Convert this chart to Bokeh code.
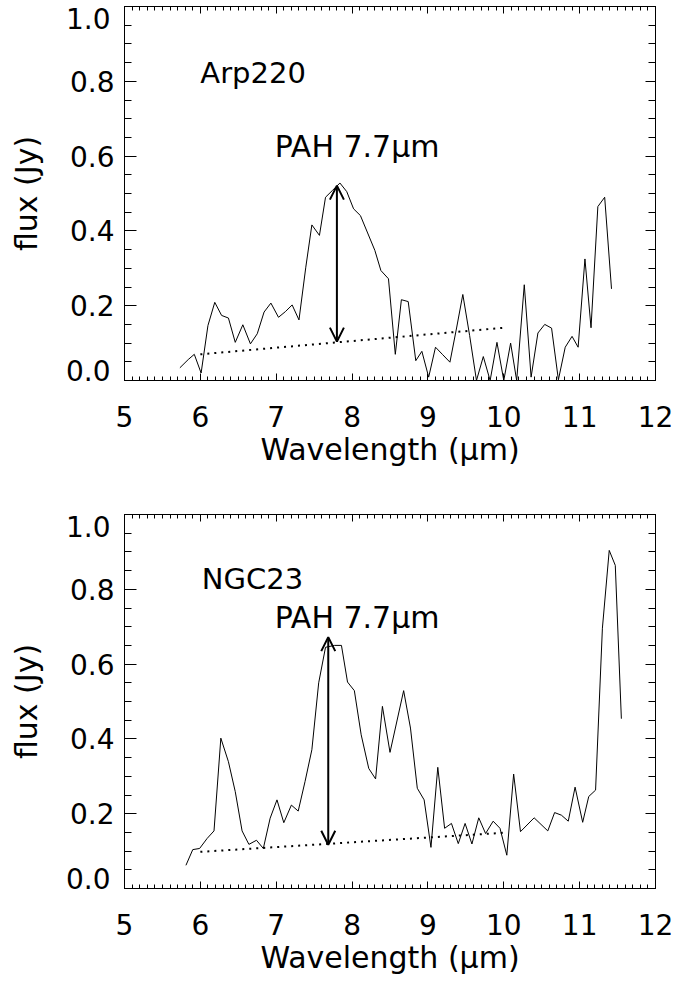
import numpy as np
from bokeh.plotting import figure
from bokeh.models import (Range1d, LinearAxis, SingleIntervalTicker, FixedTicker, Label, Arrow,
                          OpenHead, PrintfTickFormatter, CustomLabelingPolicy)
from bokeh.layouts import column
from bokeh.embed import file_html
from bokeh.resources import INLINE

# ---------------- data ----------------
wl_arp = [5.73, 5.84, 5.92, 6.01, 6.10, 6.19, 6.28, 6.37, 6.46, 6.56, 6.66, 6.75, 6.84,
          6.93, 7.03, 7.12, 7.21, 7.30, 7.39, 7.47, 7.57, 7.65, 7.74, 7.84, 7.93, 8.02,
          8.11, 8.20, 8.30, 8.38, 8.48, 8.57, 8.65, 8.74, 8.84, 8.92, 9.01, 9.10, 9.19,
          9.29, 9.38, 9.46, 9.55, 9.64, 9.73, 9.82, 9.91, 10.00, 10.09, 10.17, 10.27,
          10.36, 10.45, 10.54, 10.63, 10.72, 10.81, 10.90, 10.98, 11.07, 11.15, 11.24,
          11.33, 11.42]
flux_arp = [0.034, 0.056, 0.070, 0.020, 0.147, 0.209, 0.174, 0.167, 0.102, 0.149, 0.098,
            0.125, 0.183, 0.207, 0.169, 0.184, 0.202, 0.162, 0.303, 0.416, 0.388, 0.490,
            0.508, 0.528, 0.505, 0.459, 0.441, 0.397, 0.348, 0.294, 0.272, 0.070, 0.216,
            0.211, 0.053, 0.078, 0.009, 0.089, 0.070, 0.049, 0.143, 0.230, 0.120, 0.000,
            0.064, 0.000, 0.102, 0.000, 0.100, 0.000, 0.256, 0.009, 0.127, 0.150, 0.140,
            0.002, 0.089, 0.118, 0.089, 0.325, 0.141, 0.465, 0.490, 0.245]

wl_ngc = [5.81, 5.90, 5.99, 6.09, 6.18, 6.27, 6.37, 6.46, 6.55, 6.64, 6.74, 6.83, 6.92,
          7.01, 7.10, 7.20, 7.29, 7.38, 7.47, 7.56, 7.65, 7.77, 7.86, 7.94, 8.03, 8.12,
          8.22, 8.31, 8.40, 8.50, 8.68, 8.77, 8.86, 8.95, 9.04, 9.13, 9.22, 9.31, 9.40,
          9.49, 9.58, 9.67, 9.76, 9.86, 9.95, 10.04, 10.13, 10.22, 10.40, 10.58, 10.67,
          10.76, 10.85, 10.94, 11.04, 11.12, 11.21, 11.30, 11.39, 11.47, 11.55]
flux_ngc = [0.062, 0.104, 0.107, 0.134, 0.154, 0.402, 0.339, 0.259, 0.154, 0.118, 0.129,
            0.107, 0.188, 0.237, 0.176, 0.223, 0.207, 0.286, 0.371, 0.550, 0.645, 0.650,
            0.650, 0.552, 0.529, 0.411, 0.321, 0.293, 0.487, 0.364, 0.529, 0.429, 0.268,
            0.237, 0.110, 0.324, 0.161, 0.174, 0.120, 0.174, 0.119, 0.189, 0.147, 0.180,
            0.161, 0.089, 0.306, 0.152, 0.189, 0.154, 0.203, 0.196, 0.180, 0.271, 0.177,
            0.246, 0.263, 0.696, 0.904, 0.864, 0.454]

cont_x = [6.0, 10.0]
cont_arp = [0.070, 0.141]
cont_ngc = [0.098, 0.149]

arrow_arp = (7.80, 0.104, 0.521)   # x, bottom, top
arrow_ngc = (7.686, 0.117, 0.672)

names = ["Arp220", "NGC23"]
name_pos = [(6.0, 0.822), (6.02, 0.827)]
pah_text = "PAH 7.7\u03bcm"
pah_pos = [(6.98, 0.627), (6.98, 0.725)]

x_lim = (5, 12)
y_lim = (0.0, 1.0)
y_inner_ticks = [0.2, 0.4, 0.6, 0.8]
y_end_ticks = [0.0, 1.0]
y_minor_ticks = [round(v, 2) for v in np.arange(0.0, 1.0001, 0.05)]

FONT = "DejaVu Sans"
HIDE_ALL = "for (const i of indices) indices.unset(i)"


def make_panel(wl, flux, cont_y, arrow, name, npos, ppos, top_b, bot_b):
    p = figure(frame_width=531, frame_height=374,
               x_range=Range1d(*x_lim), y_range=Range1d(*y_lim),
               output_backend="svg", toolbar_location=None,
               min_border_left=124, min_border_right=19,
               min_border_top=top_b, min_border_bottom=bot_b,
               x_axis_label="Wavelength (\u03bcm)")
    p.xgrid.visible = False
    p.ygrid.visible = False
    p.outline_line_color = "black"
    p.outline_line_width = 1
    p.outline_line_alpha = 1.0
    p.background_fill_color = "white"
    p.border_fill_color = "white"
    # range used only to place the end labels (0.0 / 1.0) slightly inside, as in the original
    p.extra_y_ranges = {"ends": Range1d(-0.0284, 1.0341)}

    xa = p.xaxis[0]
    xa.ticker = SingleIntervalTicker(interval=1, num_minor_ticks=10)
    xa.major_tick_in = 7
    xa.major_tick_out = 0
    xa.minor_tick_in = 4
    xa.minor_tick_out = 0
    xa.major_label_standoff = 25
    xa.axis_label_standoff = 2
    xa.major_label_text_font = FONT
    xa.major_label_text_font_size = "28px"
    xa.axis_label_text_font = FONT
    xa.axis_label_text_font_size = "30px"
    xa.axis_label_text_font_style = "normal"

    ya = p.yaxis[0]
    ya.ticker = FixedTicker(ticks=y_inner_ticks, minor_ticks=y_minor_ticks)
    ya.formatter = PrintfTickFormatter(format="%.1f")
    ya.major_tick_in = 12
    ya.major_tick_out = 0
    ya.minor_tick_in = 7
    ya.minor_tick_out = 0
    ya.major_label_standoff = 10
    ya.major_label_text_font = FONT
    ya.major_label_text_font_size = "28px"

    for ax in (xa, ya):
        ax.axis_line_color = "black"
        ax.major_tick_line_color = "black"
        ax.minor_tick_line_color = "black"
        ax.major_label_text_color = "black"
        ax.axis_label_text_color = "black"

    ends = LinearAxis(y_range_name="ends", ticker=FixedTicker(ticks=y_end_ticks, minor_ticks=[]),
                      formatter=PrintfTickFormatter(format="%.1f"),
                      major_tick_in=0, major_tick_out=0, minor_tick_in=0, minor_tick_out=0,
                      axis_line_color=None, major_tick_line_color=None,
                      minor_tick_line_color=None,
                      major_label_standoff=-44,
                      major_label_text_font=FONT, major_label_text_font_size="28px",
                      major_label_text_color="black",
                      axis_label="flux (Jy)", axis_label_standoff=19,
                      axis_label_text_font=FONT, axis_label_text_font_size="30px",
                      axis_label_text_font_style="normal", axis_label_text_color="black")
    p.add_layout(ends, "left")

    top = LinearAxis(ticker=SingleIntervalTicker(interval=1, num_minor_ticks=10),
                     major_tick_in=7, major_tick_out=0, minor_tick_in=4, minor_tick_out=0,
                     major_label_text_font_size="0px", major_label_standoff=0,
                     major_label_policy=CustomLabelingPolicy(code=HIDE_ALL),
                     axis_line_color="black")
    right = LinearAxis(ticker=SingleIntervalTicker(interval=0.2, num_minor_ticks=4),
                       major_tick_in=10, major_tick_out=0, minor_tick_in=7, minor_tick_out=0,
                       major_label_text_font_size="0px", major_label_standoff=0,
                       major_label_policy=CustomLabelingPolicy(code=HIDE_ALL),
                       axis_line_color="black")
    p.add_layout(top, "above")
    p.add_layout(right, "right")

    p.line(wl, flux, line_color="black", line_width=1)
    p.line(cont_x, cont_y, line_color="black", line_width=2, line_dash="2 5")

    ax_, y0, y1 = arrow
    p.add_layout(Arrow(x_start=ax_, y_start=y0, x_end=ax_, y_end=y1,
                       line_width=2, line_color="black",
                       start=OpenHead(size=14, line_width=2, line_color="black"),
                       end=OpenHead(size=14, line_width=2, line_color="black")))

    p.add_layout(Label(x=npos[0], y=npos[1], text=name, text_align="left",
                       text_baseline="alphabetic", text_font=FONT,
                       text_font_size="29px", text_color="black"))
    p.add_layout(Label(x=ppos[0], y=ppos[1], text=pah_text, text_align="left",
                       text_baseline="alphabetic", text_font=FONT,
                       text_font_size="30px", text_color="black"))
    return p


p1 = make_panel(wl_arp, flux_arp, cont_arp, arrow_arp, names[0], name_pos[0], pah_pos[0], 6, 110)
p2 = make_panel(wl_ngc, flux_ngc, cont_ngc, arrow_ngc, names[1], name_pos[1], pah_pos[1], 24, 97)

layout = column(p1, p2, spacing=0)
open("out.html", "w").write(file_html(layout, INLINE))
